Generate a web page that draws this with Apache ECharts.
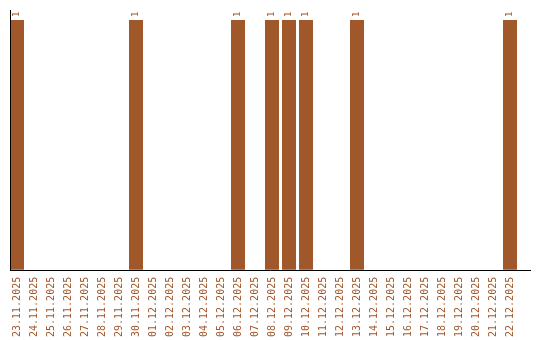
<!DOCTYPE html>
<html>
<head>
<meta charset="utf-8">
<script src="https://cdn.jsdelivr.net/npm/echarts@6/dist/echarts.min.js"></script>
<style>html,body{margin:0;padding:0;background:#fff}#c{width:540px;height:340px}</style>
</head>
<body>
<div id="c"></div>
<script>
const categories = ["23.11.2025","24.11.2025","25.11.2025","26.11.2025","27.11.2025","28.11.2025","29.11.2025","30.11.2025","01.12.2025","02.12.2025","03.12.2025","04.12.2025","05.12.2025","06.12.2025","07.12.2025","08.12.2025","09.12.2025","10.12.2025","11.12.2025","12.12.2025","13.12.2025","14.12.2025","15.12.2025","16.12.2025","17.12.2025","18.12.2025","19.12.2025","20.12.2025","21.12.2025","22.12.2025"];
const values = [1,0,0,0,0,0,0,1,0,0,0,0,0,1,0,1,1,1,0,0,1,0,0,0,0,0,0,0,0,1];

const color = '#A0572A';
const chart = echarts.init(document.getElementById('c'));
chart.setOption({
  animation: false,
  grid: {left: 8.5, top: 10, width: 510, height: 260, containLabel: false},
  xAxis: {
    type: 'category',
    data: categories,
    axisLine: {show: false},
    axisTick: {show: false},
    axisLabel: {rotate: 90, interval: 0, margin: 7, color: color, fontFamily: 'DejaVu Sans Mono', fontSize: 10}
  },
  yAxis: {
    type: 'value', min: 0, max: 1.04,
    axisLine: {show: false},
    axisTick: {show: false},
    axisLabel: {show: false},
    splitLine: {show: false}
  },
  graphic: [
    {type: 'line', z: 10, shape: {x1: 10, y1: 270.5, x2: 531, y2: 270.5}, style: {stroke: '#000', lineWidth: 1}},
    {type: 'line', z: 10, shape: {x1: 10.5, y1: 10, x2: 10.5, y2: 271}, style: {stroke: '#000', lineWidth: 1}}
  ],
  series: [{
    type: 'bar',
    data: values.map(v => v === 0 ? null : v),
    barWidth: 14,
    itemStyle: {color: color},
    label: {show: true, position: 'top', rotate: 90, align: 'left', verticalAlign: 'middle', distance: 3, color: color, fontFamily: 'DejaVu Sans Mono', fontSize: 9}
  }]
});
</script>
</body>
</html>
